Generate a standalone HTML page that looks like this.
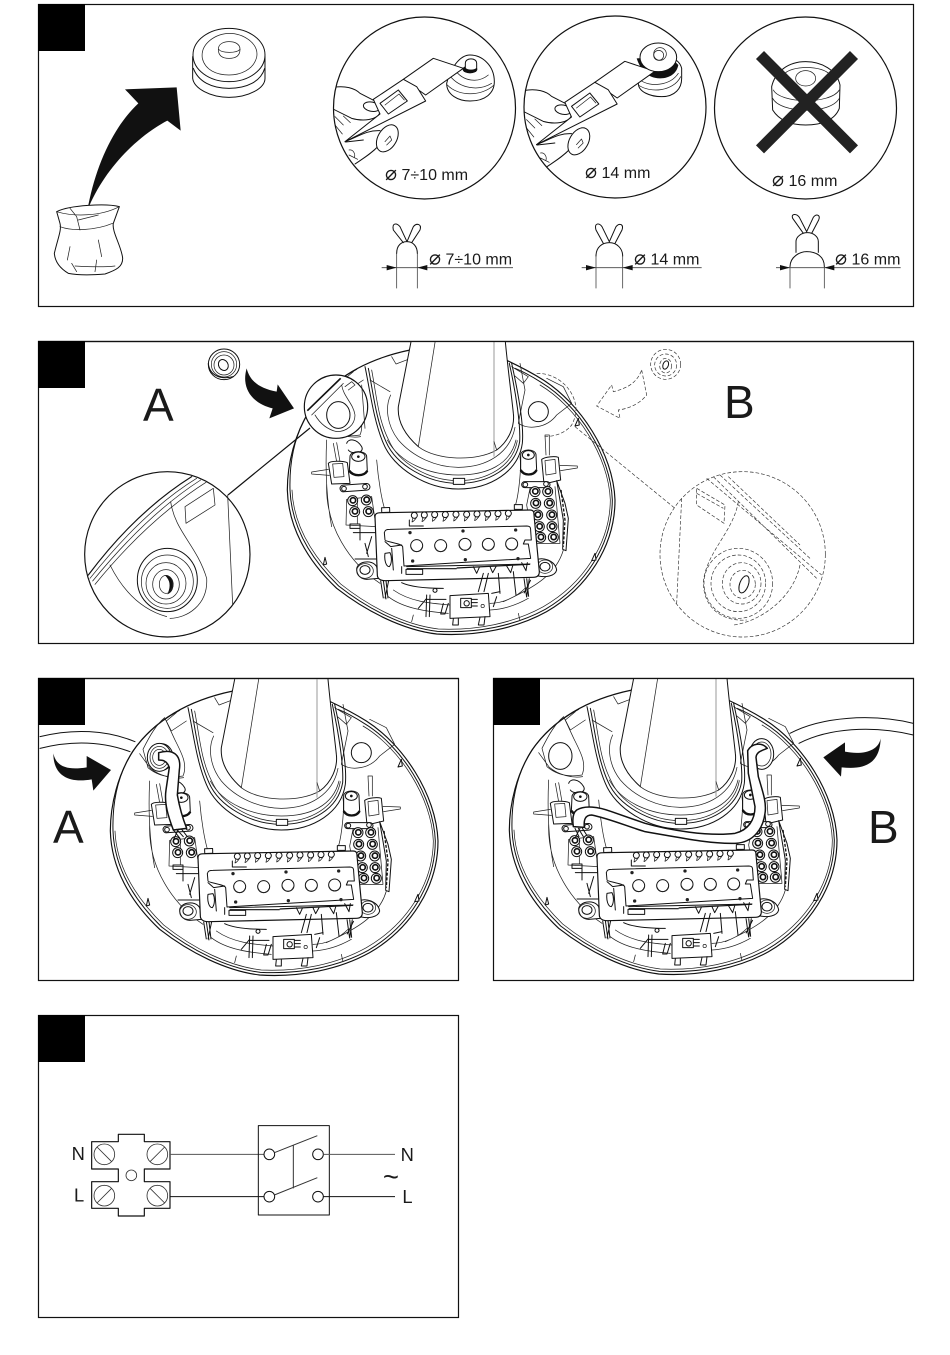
<!DOCTYPE html>
<html><head><meta charset="utf-8"><style>
html,body{margin:0;padding:0;background:#fff;width:950px;height:1355px;overflow:hidden}
svg{display:block}
text{font-family:"Liberation Sans","DejaVu Sans",sans-serif;fill:#1a1a1a}
.s{fill:none;stroke:#111;stroke-width:3;stroke-linejoin:round;stroke-linecap:round}
.w{fill:#fff;stroke:#111;stroke-width:3;stroke-linejoin:round;stroke-linecap:round}
.t{fill:none;stroke:#222;stroke-width:2.2;stroke-linecap:round;stroke-linejoin:round}
.d{fill:none;stroke:#333;stroke-width:2;stroke-dasharray:11 6}
.g{fill:none;stroke:#444;stroke-width:2.4}
</style></head><body>
<svg width="950" height="1355" viewBox="0 0 950 1355" xmlns="http://www.w3.org/2000/svg">
<defs>
<clipPath id="c1"><circle cx="424.500" cy="108" r="91"/></clipPath>
<clipPath id="c2"><circle cx="615" cy="107" r="91"/></clipPath>
<clipPath id="p2"><rect x="38" y="341" width="876" height="303"/></clipPath>
<clipPath id="p3"><rect x="38" y="678" width="421" height="303"/></clipPath>
<clipPath id="p4"><rect x="493" y="678" width="421" height="303"/></clipPath>
<g id="term"><circle r="15" class="w"/><circle r="8" cx="1" cy="-1" fill="#fff" stroke="#111" stroke-width="5"/></g>
<g id="small"><circle r="9" class="w"/><path class="t" d="M-5 9 L-7 20 L-2 17 M5 9 L-2 17"/></g>
<g id="btn"><circle r="18" class="w"/><path class="t" style="stroke-width:3" d="M-17 5 C-10 22 10 22 17 5"/></g>
<g id="hand">
  <path class="s" d="M-10 143 C30 135 60 145 75 160 L118 182 M-10 205 L50 235 C85 245 125 240 135 218"/>
  <ellipse class="w" cx="110" cy="200" rx="25" ry="14" transform="rotate(10 110 200)"/>
  <path class="t" d="M0 230 L25 255 M0 255 L22 282 M25 228 L46 248 M42 330 C55 328 62 342 58 352 M42 345 L68 358"/>
  <path class="s" d="M30 305 C70 290 95 270 135 272 M60 372 C85 355 110 340 130 318 M32 306 L85 300"/>
</g>
<g id="cal">
  <path class="w" d="M205 118 L295 55 L385 85 L272 165 Z"/>
  <path class="w" d="M115 178 L205 118 L245 140 L272 183 L30 305 L135 222 Z"/>
  <path class="w" d="M135 190 L190 150 L217 183 L160 222 Z"/>
  <path class="t" d="M150 195 L192 162 L208 180 M190 150 L198 160"/>
</g>
<g id="dev">
  <path class="w" style="stroke-width:3.5" d="M420 30 C300 55 190 110 120 210 C75 280 52 370 52 450 C55 560 110 660 200 745 C290 815 400 870 500 882 C620 890 740 865 830 815 C950 745 1035 620 1035 480 C1030 340 930 190 820 120 C780 95 740 75 708 60"/>
  <path class="s" d="M260 88 C190 125 135 175 100 245 C68 310 58 380 60 450 C64 555 118 652 206 738 C295 808 402 862 502 874 C620 880 735 858 826 808 C945 738 1026 615 1027 480 C1022 345 925 195 815 128 C790 112 760 95 735 85"/>
  <path class="t" d="M66 450 C70 552 124 646 212 732 C300 802 405 855 505 867 C620 872 730 850 820 800 C938 732 1020 612 1021 480 C1016 350 920 200 810 135"/>
  <path class="t" d="M365 50 L378 72 L415 58 M725 80 L775 110 L760 130 L735 108 M250 95 L220 120 L235 150 L280 120"/>
  <path class="t" d="M150 205 C170 165 190 130 215 110 L245 175 C265 215 285 250 270 285 C240 290 200 290 165 260 Z M140 218 L172 262 C200 285 240 295 272 290"/>
  <ellipse class="w" cx="205" cy="228" rx="35" ry="40"/>
  <path class="t" d="M750 70 L765 150 L745 250 C775 270 830 265 860 225 L905 190 L880 140 L830 115"/>
  <circle class="w" cx="805" cy="215" r="30"/>
  <path class="t" d="M170 300 C165 400 170 480 185 560 M170 430 C165 560 240 670 330 730 M880 630 C860 700 800 740 700 785 M370 750 C420 785 480 790 540 795 M355 770 C400 805 470 815 535 820 M660 790 C700 790 740 770 765 745 M660 810 C700 808 740 795 775 775"/>
  <path class="s" d="M285 80 C300 150 310 240 340 310 C370 385 470 447 565 447 C660 447 745 395 757 310 C762 260 745 160 725 70"/>
  <path class="s" d="M295 85 C310 160 318 240 348 305 C378 375 472 430 565 430 C655 430 735 385 749 305 C752 255 738 160 718 70"/>
  <path class="t" d="M305 90 C320 170 325 240 356 300 C385 368 475 422 565 422 C650 422 728 380 742 302"/>
  <path class="t" d="M352 300 C390 370 480 405 565 405 C650 405 720 375 738 300 M362 165 C345 200 350 255 385 300 C430 352 500 382 565 382 C650 382 720 340 735 262 M300 120 L360 155"/>
  <path fill="#fff" d="M425 -5 L385 200 C382 240 400 280 445 320 C500 362 620 365 680 330 C715 305 735 260 730 220 C725 170 715 100 705 -5 Z"/>
  <path class="s" d="M425 -5 L385 200 C382 240 400 280 445 320 M680 330 C715 305 735 260 730 220 C725 170 715 100 705 -5"/>
  <path class="t" d="M497 -5 L445 320 M445 320 C500 362 620 365 680 330"/>
  <path d="M672 -5 V350" stroke="#999" stroke-width="3"/>
  <path class="t" d="M680 330 L672 305"/>
  <rect class="w" x="550" y="415" width="34" height="18"/>
  <path class="t" d="M320 360 C325 420 335 480 345 510 M750 350 C755 390 745 470 735 500"/>
  <path class="t" d="M190 310 L200 365 M200 308 L210 365"/>
  <path class="s" d="M230 310 C235 295 260 295 275 320 C285 340 245 345 235 330"/>
  <path class="w" d="M175 370 C180 362 220 362 232 368 L240 430 L185 432 Z"/>
  <path class="t" d="M188 372 L218 370 L222 410 L192 412 Z"/>
  <path class="t" d="M175 388 L125 396 L125 402 L178 406"/>
  <path class="w" d="M240 350 C240 330 290 330 290 350 L292 395 C285 410 245 410 238 395 Z"/>
  <ellipse class="s" cx="265" cy="350" rx="20" ry="14"/><circle cx="265" cy="350" r="4" fill="#111"/>
  <path d="M238 392 C250 410 282 410 292 392" fill="none" stroke="#111" stroke-width="7"/>
  <rect class="w" x="210" y="433" width="90" height="20" rx="10" transform="rotate(-4 255 443)"/>
  <circle class="w" cx="222" cy="446" r="7"/><circle class="w" cx="285" cy="440" r="7"/>
  <path class="t" d="M230 478 L228 555 L318 560 L305 470 Z M262 480 L262 550"/>
  <use href="#term" x="248" y="482"/><use href="#term" x="289" y="480"/><use href="#term" x="254" y="515"/><use href="#term" x="295" y="515"/>
  <path class="s" d="M240 552 H270 V565 H240 Z M250 578 H320 M270 565 V600 M285 610 L295 650 M305 590 L290 640 M320 560 V585"/>
  <path class="s" d="M255 657 H330"/>
  <path class="w" d="M260 690 C258 665 305 655 320 680 L325 715 L290 718 C275 718 262 708 260 690 Z"/>
  <ellipse class="s" cx="285" cy="690" rx="15" ry="13"/><ellipse class="t" cx="285" cy="693" rx="25" ry="22"/>
  <path class="w" d="M800 660 C815 650 855 660 860 690 C855 710 825 712 805 708 Z"/>
  <ellipse class="s" cx="825" cy="680" rx="15" ry="13"/><ellipse class="t" cx="825" cy="680" rx="23" ry="20"/>
  <path class="t" d="M825 285 L828 345 M838 285 L838 345 M825 285 H838"/>
  <path class="w" d="M815 358 C825 350 855 348 865 352 L872 420 L822 432 Z"/>
  <path class="t" d="M825 362 L855 358 L858 400 L828 405 Z"/>
  <path class="t" d="M870 376 L922 378 L922 384 L872 392"/>
  <path class="w" d="M752 345 C752 325 798 325 798 345 L800 392 C790 408 760 408 752 392 Z"/>
  <ellipse class="s" cx="775" cy="345" rx="18" ry="13"/><circle cx="775" cy="345" r="4" fill="#111"/>
  <path d="M752 390 C762 408 790 408 800 390" fill="none" stroke="#111" stroke-width="7"/>
  <rect class="w" x="755" y="425" width="85" height="18" rx="9"/>
  <circle class="w" cx="766" cy="434" r="7"/><circle class="w" cx="828" cy="432" r="7"/>
  <path class="t" d="M780 445 L770 495 L790 610 L870 610 L855 440"/>
  <use href="#term" x="795" y="455"/><use href="#term" x="833" y="455"/><use href="#term" x="797" y="490"/><use href="#term" x="838" y="490"/><use href="#term" x="803" y="525"/><use href="#term" x="845" y="525"/><use href="#term" x="808" y="560"/><use href="#term" x="846" y="560"/><use href="#term" x="812" y="592"/><use href="#term" x="850" y="592"/>
  <path class="w" d="M860 422 L885 490 L895 535 L888 632 L878 628 L880 540 Z"/>
  <path d="M873 450 L885 540 L880 620" fill="none" stroke="#111" stroke-width="4" stroke-dasharray="9 5"/>
  <path class="w" style="stroke-width:3.5" d="M315 530 C315 518 325 518 340 518 L780 510 C790 510 792 515 792 525 L808 695 C808 708 800 712 790 712 L345 722 C330 722 322 715 322 705 Z"/>
  <rect class="w" x="335" y="503" width="24" height="14" transform="rotate(-2 347 510)"/><rect class="w" x="733" y="494" width="24" height="14"/>
  <use href="#small" x="433" y="526"/><use href="#small" x="463" y="525"/><use href="#small" x="494" y="524"/><use href="#small" x="526" y="524"/><use href="#small" x="558" y="523"/><use href="#small" x="590" y="523"/><use href="#small" x="621" y="522"/><use href="#small" x="653" y="522"/><use href="#small" x="684" y="521"/><use href="#small" x="715" y="520"/>
  <path class="s" d="M345 600 L343 578 C345 570 350 568 360 568 L770 558 C780 558 782 562 782 572 L784 600 L765 600 L760 612 L775 612 L782 655 L402 678 L398 620 C395 610 345 605 345 600 Z"/>
  <circle cx="420" cy="578" r="5" fill="#222"/><circle cx="579" cy="573" r="5" fill="#222"/><circle cx="737" cy="570" r="5" fill="#222"/><circle cx="428" cy="663" r="5" fill="#222"/><circle cx="586" cy="659" r="5" fill="#222"/><circle cx="744" cy="656" r="5" fill="#222"/>
  <use href="#btn" x="440" y="617"/><use href="#btn" x="512" y="617"/><use href="#btn" x="585" y="613"/><use href="#btn" x="655" y="613"/><use href="#btn" x="725" y="612"/>
  <path class="s" d="M418 540 V558 H460 M345 605 L362 620 L395 615 M365 625 L370 690 M345 640 C342 660 348 680 358 680 C366 670 366 650 360 638 Z M410 680 L780 672"/>
  <path d="M410 686 H560 M560 684 L780 673" stroke="#111" stroke-width="3.5"/>
  <path class="s" d="M395 700 V680 M408 688 H458 V703 H408 Z"/>
  <path class="s" d="M610 680 L620 700 L628 682 M660 680 L668 698 L678 680 M710 678 L722 698 L728 678 M755 668 L768 692 L772 668"/>
  <g stroke="#111" stroke-width="3" fill="none"><path d="M332 722 L340 775 M340 722 L348 778 M348 722 L354 775 M356 722 L345 775"/><path d="M762 715 L770 772 M770 715 L776 770 M778 715 L770 772 M782 720 L762 760"/></g>
  <path class="s" d="M395 728 C420 740 470 745 520 745 M640 700 L625 755 M655 700 L642 755 M685 700 L690 760 M730 695 L738 765 M495 745 a6 6 0 1 0 .1 0"/>
  <path class="s" d="M470 778 H528 M470 765 L468 830 M480 765 L478 830 M520 790 L512 822 H525 L535 790 M445 805 L470 775"/>
  <path class="w" d="M540 767 L655 760 L660 830 L540 835 Z"/>
  <rect class="w" x="572" y="775" width="32" height="28"/><circle class="s" cx="590" cy="790" r="8"/>
  <path class="s" d="M605 778 H622 M605 788 H622 M605 798 H622"/><circle class="t" cx="638" cy="798" r="5"/>
  <path class="s" d="M550 836 L548 855 H565 L565 835 M630 832 L625 855 H642 L645 830 M680 770 L670 800 M665 760 L690 755"/>
  <path class="w" d="M165 652 L160 675 L170 672 Z"/><path class="w" d="M975 640 L965 662 L978 660 Z"/><path class="w" d="M925 235 L915 258 L928 255 Z"/><path class="t" d="M430 825 L425 845 M745 820 L750 842"/>
</g>
</defs>

<rect x="38.5" y="4.5" width="875" height="302" fill="#fff" stroke="#111" stroke-width="1.2"/>
<rect x="38.5" y="341.5" width="875" height="302" fill="#fff" stroke="#111" stroke-width="1.2"/>
<rect x="38.5" y="678.5" width="420" height="302" fill="#fff" stroke="#111" stroke-width="1.2"/>
<rect x="493.5" y="678.5" width="420" height="302" fill="#fff" stroke="#111" stroke-width="1.2"/>
<rect x="38.5" y="1015.5" width="420" height="302" fill="#fff" stroke="#111" stroke-width="1.2"/>

<!-- PANEL 1 -->
<g transform="translate(30,0) scale(.33333)">
  <path d="M172 632 C195 500 250 380 325 310 L285 268 L440 262 L452 392 L412 362 C320 410 220 510 172 632 Z" fill="#111"/>
  <path class="w" d="M488 170 L488 235 C492 265 540 292 597 292 C655 292 705 265 705 235 L705 170"/>
  <path class="s" d="M490 205 C505 245 545 265 597 265 C650 265 692 245 704 205"/>
  <ellipse class="w" cx="597" cy="165" rx="108" ry="80"/>
  <path class="t" d="M517 175 C510 130 560 100 597 100 C640 100 688 130 680 172 C670 210 630 225 597 225 C560 225 525 210 517 175"/>
  <path class="t" d="M597 175 C625 175 630 160 630 148 C630 130 612 125 597 125 C580 125 565 132 565 148 C565 165 575 175 597 175"/>
  <path class="t" d="M566 148 C575 160 620 160 630 148"/>
  <path class="w" d="M80 635 C120 615 230 610 268 620 L250 670 C245 695 275 740 278 775 C278 800 260 810 225 822 C190 825 150 827 115 820 C90 805 75 785 73 760 C85 710 95 690 90 670 Z"/>
  <path class="t" d="M80 635 C130 650 210 650 268 620 M90 680 C130 695 200 690 248 670 M120 625 L140 650 L150 690 M145 660 L205 645 M120 740 L112 780 M205 720 L215 770 M200 780 L195 815 M125 790 L140 815 M135 798 C170 800 220 802 255 798"/>
</g>
<g transform="translate(30,0) scale(.33333)">
  <path class="g" d="M1100 760 V865 M1162 760 V865"/>
  <path class="s" d="M1100 760 C1100 735 1115 725 1131 725 C1150 725 1162 740 1162 760 M1120 728 L1090 690 C1085 668 1100 668 1110 680 L1131 725 L1150 680 C1160 668 1176 672 1170 690 L1145 728"/>
  <path class="g" d="M1055 803 H1449"/>
  <path d="M1100 803 L1070 795 V811 Z M1162 803 L1192 795 V811 Z" fill="#111"/>
</g>
<g transform="translate(490,0) scale(.33333)">
  <path class="g" d="M318 768 V865 M398 768 V865 M900 800 V865 M1003 800 V865"/>
  <path class="s" d="M318 768 C318 740 338 728 358 728 C380 728 398 745 398 768 M340 730 L318 690 C312 668 328 668 336 680 L358 725 L378 680 C388 668 402 672 396 690 L375 730"/>
  <path class="g" d="M275 803 H635"/>
  <path d="M318 803 L288 795 V811 Z M398 803 L428 795 V811 Z" fill="#111"/>
  <path class="s" d="M900 800 C900 770 930 755 950 755 C980 755 1003 770 1003 800 M918 757 V725 C918 710 935 698 952 698 C970 698 985 710 985 725 V757 M940 700 L908 655 C902 640 920 640 928 652 L950 695 L970 652 C980 640 992 645 986 660 L965 700"/>
  <path class="g" d="M858 803 H1232"/>
  <path d="M900 803 L870 795 V811 Z M1003 803 L1033 795 V811 Z" fill="#111"/>
</g>
<text x="429" y="264.500" font-size="16"><tspan font-size="20">⌀</tspan> 7÷10 mm</text>
<text x="634" y="264.500" font-size="16"><tspan font-size="20">⌀</tspan> 14 mm</text>
<text x="835" y="264.500" font-size="16"><tspan font-size="20">⌀</tspan> 16 mm</text>

<circle cx="424.500" cy="108" r="91" fill="#fff"/>
<g clip-path="url(#c1)">
<g transform="translate(335,40) scale(.33333)">
  <path class="w" d="M335 130 C335 165 370 183 405 183 C450 183 478 160 478 125 C478 75 440 45 405 45 C375 45 345 85 335 130 Z"/>
  <path class="t" d="M345 108 C375 145 430 155 470 130 M360 90 C385 125 430 130 460 105 M337 135 C370 170 440 170 477 135"/>
  <use href="#hand"/><use href="#cal"/>
  <ellipse cx="405" cy="88" rx="22" ry="12" fill="#111"/>
  <path class="w" d="M391 70 C391 52 425 52 425 70 L425 85 C420 92 396 92 391 85 Z"/>
  <ellipse cx="157" cy="295" rx="28" ry="44" transform="rotate(30 157 295)" class="w"/>
  <path class="t" d="M150 305 L165 288 L170 300 L155 315"/>
</g>
</g>
<circle cx="424.500" cy="108" r="91" fill="none" stroke="#111" stroke-width="1.2"/>
<text x="385" y="180" font-size="16"><tspan font-size="20">⌀</tspan> 7÷10 mm</text>

<circle cx="615" cy="107" r="91" fill="#fff"/>
<g clip-path="url(#c2)">
<g transform="translate(490,0) scale(.33333)">
  <path class="w" d="M445 250 C445 275 480 290 515 290 C555 290 575 265 575 235 L575 205 C570 185 555 175 540 175 L460 180 Z"/>
  <path class="t" d="M445 255 C480 280 550 275 572 230 M450 240 C480 262 540 258 565 220"/>
  <path d="M440 175 C450 205 470 235 510 235 C540 235 560 220 565 195 L540 170 Z" fill="#111"/>
</g>
<g transform="translate(526.500,43) scale(.33333)">
  <use href="#hand"/><use href="#cal"/>
  <ellipse cx="157" cy="295" rx="28" ry="44" transform="rotate(30 157 295)" class="w"/>
  <path class="t" d="M150 305 L165 288 L170 300 L155 315"/>
</g>
<g transform="translate(490,0) scale(.33333)">
  <ellipse class="w" cx="505" cy="172" rx="55" ry="43"/>
  <circle class="t" cx="510" cy="162" r="19"/><circle class="t" cx="506" cy="166" r="15"/>
</g>
</g>
<circle cx="615" cy="107" r="91" fill="none" stroke="#111" stroke-width="1.2"/>
<text x="585" y="178" font-size="16"><tspan font-size="20">⌀</tspan> 14 mm</text>

<circle cx="805.500" cy="108" r="91" fill="#fff" stroke="#111" stroke-width="1.2"/>
<g transform="translate(490,0) scale(.33333)">
  <path class="w" d="M845 260 L848 330 C870 365 910 375 947 375 C995 375 1035 360 1048 325 L1050 255 C1040 210 995 185 947 185 C895 185 855 215 845 260 Z"/>
  <path class="t" d="M848 295 C870 340 1020 345 1048 295 M850 270 C870 310 1020 315 1048 270 M880 225 C900 195 1000 195 1020 225"/>
  <ellipse class="t" cx="947" cy="235" rx="30" ry="23"/>
  <path d="M810 165 L1092 448 M1092 165 L810 448" stroke="#222" stroke-width="34" fill="none"/>
</g>
<text x="772" y="186" font-size="16"><tspan font-size="20">⌀</tspan> 16 mm</text>
<rect x="38" y="4" width="47" height="47" fill="#000"/>

<!-- PANEL 2 -->
<g clip-path="url(#p2)"><use href="#dev" transform="translate(270,340) scale(.33333)"/></g>
<path d="M38 341.500 H914" stroke="#111" stroke-width="1.2"/>
<g transform="translate(270,340) scale(.33333)">
  <circle cx="198" cy="200" r="95" fill="#fff" stroke="#111" stroke-width="3.5"/>
  <path d="M112 212 L212 115" stroke="#111" stroke-width="5" fill="none"/>
  <path class="t" d="M125 225 L220 130 M215 135 C220 170 250 190 255 225 C255 255 230 275 200 275 M135 225 C150 250 170 268 200 275 M225 140 L245 125 L255 135 L235 150 M275 135 L285 265"/>
  <ellipse class="s" cx="205" cy="225" rx="35" ry="40"/>
</g>
<path d="M310 428 L228 495" stroke="#111" stroke-width="1.2"/>
<g transform="translate(80,345) scale(.33333)">
  <path d="M500 70 C510 110 540 130 590 140 L593 118 L642 190 L568 220 L578 190 C530 180 480 140 500 70 Z" fill="#111"/>
  <ellipse class="w" cx="432" cy="58" rx="47" ry="46"/>
  <ellipse class="t" cx="432" cy="58" rx="38" ry="38"/><ellipse class="t" cx="432" cy="60" rx="30" ry="30"/>
  <ellipse class="s" cx="430" cy="60" rx="14" ry="17" transform="rotate(-30 430 60)"/>
  <path class="s" d="M385 55 C388 90 420 105 460 95"/>
  <circle cx="262" cy="628" r="248" fill="#fff" stroke="#111" stroke-width="3.500"/>
  <path class="s" style="stroke-width:3.500" d="M25 690 C100 590 200 480 335 395"/>
  <path class="t" d="M30 700 C110 600 220 480 350 400 M38 708 C118 610 230 490 362 405 M45 718 C125 620 240 500 378 412"/>
  <path class="t" d="M315 485 L400 430 L405 480 L318 535 Z M272 470 C285 560 350 600 380 700 C385 780 320 820 270 820 M90 660 C120 720 170 790 260 815 M443 450 L458 780"/>
  <ellipse class="s" cx="262" cy="705" rx="90" ry="95"/>
  <ellipse class="t" cx="262" cy="710" rx="78" ry="80"/>
  <ellipse class="t" cx="258" cy="715" rx="60" ry="62"/>
  <ellipse class="t" cx="258" cy="718" rx="40" ry="44"/>
  <path d="M258 692 C285 695 285 735 265 745 C275 720 270 705 258 692 Z" fill="#111" stroke="#111" stroke-width="3"/>
  <ellipse class="t" cx="258" cy="718" rx="20" ry="27"/>
</g>
<g transform="translate(520,345) scale(.33333)">
  <path class="d" d="M50 85 C120 85 165 140 168 190 C168 215 160 230 155 240 C140 260 110 275 70 275"/>
  <path class="d" d="M165 245 L465 490"/>
  <path class="d" d="M365 75 L380 150 C360 175 330 190 295 195 L300 220 L230 183 L275 120 L280 140 C320 130 350 115 365 75 Z"/>
  <circle class="d" cx="437" cy="58" r="45"/><circle class="d" cx="437" cy="60" r="33"/><ellipse class="d" cx="437" cy="62" rx="18" ry="22"/>
  <ellipse class="s" cx="437" cy="60" rx="8" ry="13" transform="rotate(20 437 60)"/>
  <circle class="d" cx="668" cy="628" r="248"/>
  <path class="d" d="M560 400 L905 690 M580 395 L890 700 M600 390 L870 640 M625 395 L840 600 M840 660 C820 760 720 830 640 840"/>
  <path class="d" d="M530 430 L615 480 L612 535 L530 480 Z M530 445 L610 490 M655 470 C640 560 560 620 550 710 C550 800 620 830 680 825 M485 460 L470 775"/>
  <ellipse class="d" cx="655" cy="715" rx="103" ry="105"/><ellipse class="d" cx="655" cy="715" rx="82" ry="85"/><ellipse class="d" cx="665" cy="715" rx="58" ry="62"/><ellipse class="d" cx="668" cy="718" rx="38" ry="42"/>
  <ellipse class="s" cx="672" cy="718" rx="13" ry="27" transform="rotate(20 672 718)"/>
</g>
<text x="143" y="421" font-size="46">A</text>
<text x="724" y="418" font-size="46">B</text>
<rect x="38" y="341" width="47" height="47" fill="#000"/>

<!-- PANEL 3 -->
<g transform="translate(40,680) scale(.33333)">
  <path class="s" d="M0 170 C100 145 200 150 285 185 M0 205 C100 180 190 185 270 215"/>
</g>
<g clip-path="url(#p3)"><use href="#dev" transform="translate(93,681) scale(.33333)"/></g>
<path d="M38 678.500 H459" stroke="#111" stroke-width="1.2"/>
<g transform="translate(40,680) scale(.33333)">
  <ellipse class="w" cx="358" cy="232" rx="36" ry="42"/>
  <ellipse class="t" cx="358" cy="232" rx="28" ry="33"/><ellipse class="t" cx="358" cy="232" rx="20" ry="24"/>
  <path d="M356 218 C400 205 425 225 418 270 L412 345 C420 390 430 420 440 445 L400 450 C385 410 372 370 378 330 L388 262 C380 240 365 240 356 240 Z" fill="#fff" stroke="#111" stroke-width="4.500" stroke-linejoin="round"/>
  <path class="s" d="M400 450 L420 475 M410 448 L430 470 M425 448 L442 470 M415 448 L400 480"/>
  <path d="M40 220 C50 265 90 270 140 262 L140 228 L213 270 L160 332 L155 298 C90 310 40 290 40 220 Z" fill="#111"/>
</g>
<text x="53" y="843" font-size="46">A</text>
<rect x="38" y="678" width="47" height="47" fill="#000"/>

<!-- PANEL 4 -->
<g transform="translate(495,680) scale(.33333)">
  <path class="s" d="M885 160 C980 110 1130 100 1255 130 M912 190 C1000 145 1130 135 1255 165"/>
</g>
<g clip-path="url(#p4)"><use href="#dev" transform="translate(492,680) scale(.33333)"/></g>
<path d="M493 678.500 H914" stroke="#111" stroke-width="1.2"/>
<g transform="translate(495,680) scale(.33333)">
  <ellipse class="w" cx="800" cy="222" rx="36" ry="46"/>
  <ellipse class="t" cx="800" cy="222" rx="28" ry="36"/>
  <path d="M758 212 C770 190 800 185 817 205 C800 212 785 215 783 232 L790 290 C805 340 815 370 810 400 C805 440 780 488 720 490 C640 492 540 470 450 455 C400 440 340 415 290 405 C270 405 266 420 268 442 L235 440 C232 420 232 400 245 390 C270 375 310 380 350 395 L450 430 C520 450 640 470 720 460 C760 450 780 420 780 380 L760 280 Z" fill="#fff" stroke="#111" stroke-width="4.500" stroke-linejoin="round"/>
  <path class="s" d="M240 445 L252 470 M250 445 L265 470 M262 445 L275 465 M255 445 L240 475"/>
  <path d="M1157 175 C1150 215 1100 225 1050 215 L1050 187 L985 232 L1038 290 L1040 262 C1110 270 1155 250 1157 175 Z" fill="#111"/>
</g>
<text x="868" y="843" font-size="46">B</text>
<rect x="493" y="678" width="47" height="47" fill="#000"/>

<!-- PANEL 5 -->
<g transform="translate(40,1110) scale(.33333)">
  <path class="s" style="stroke-width:3.500" d="M155 95 H235 V73 H313 V95 H390 V177 H313 V215 H390 V295 H313 V318 H235 V295 H155 V215 H235 V177 H155 Z"/>
  <g style="fill:none;stroke:#333;stroke-width:2.500">
  <circle cx="193" cy="133" r="31"/><circle cx="352" cy="133" r="31"/><circle cx="193" cy="257" r="31"/><circle cx="352" cy="257" r="31"/>
  <path d="M171 111 L215 155 M374 111 L330 155 M215 235 L171 279 M330 235 L374 279"/>
  <circle cx="274" cy="196" r="16"/>
  </g>
  <path d="M390 133 H672" stroke="#555" stroke-width="3"/>
  <path d="M390 260 H672" stroke="#111" stroke-width="3"/>
  <rect x="655" y="47" width="213" height="268" class="s"/>
  <circle cx="688" cy="133" r="16" class="s"/><circle cx="834" cy="133" r="16" class="s"/><circle cx="688" cy="260" r="16" class="s"/><circle cx="834" cy="260" r="16" class="s"/>
  <path d="M703 128 L832 77 M703 255 L832 203 M760 105 V235" stroke="#333" stroke-width="3" fill="none"/>
  <path d="M850 133 H1065" stroke="#555" stroke-width="3"/>
  <path d="M850 260 H1065" stroke="#111" stroke-width="3"/>
  <text x="95" y="150" font-size="55">N</text>
  <text x="102" y="275" font-size="55">L</text>
  <text x="1082" y="153" font-size="55">N</text>
  <text x="1087" y="279" font-size="55">L</text>
  <text x="1029" y="228" font-size="82">~</text>
</g>
<rect x="38" y="1015" width="47" height="47" fill="#000"/>
</svg>
</body></html>
